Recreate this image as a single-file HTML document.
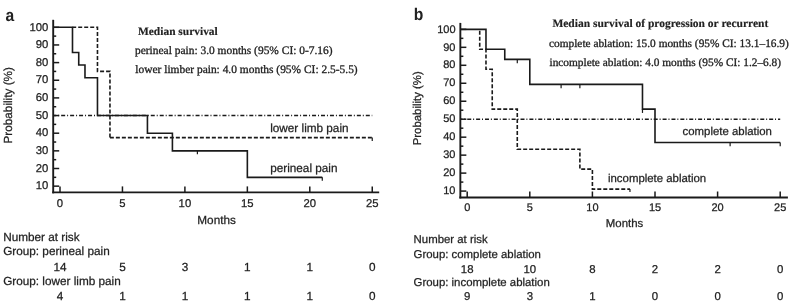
<!DOCTYPE html>
<html><head><meta charset="utf-8"><style>
html,body{margin:0;padding:0;background:#fff;}
body{width:793px;height:303px;overflow:hidden;}
svg{display:block;filter:grayscale(1) blur(0.3px);}
text{text-rendering:geometricPrecision;}
</style></head><body>
<svg width="793" height="303" viewBox="0 0 793 303">
<rect width="793" height="303" fill="#fff"/>
<line x1="53.2" y1="19.8" x2="53.2" y2="193.35" stroke="#1a1a1a" stroke-width="1.9"/>
<line x1="52.25" y1="192.4" x2="379.2" y2="192.4" stroke="#1a1a1a" stroke-width="1.9"/>
<line x1="53.2" y1="186.15" x2="59.2" y2="186.15" stroke="#1a1a1a" stroke-width="1.5"/>
<text x="48.3" y="189.35" font-family='"Liberation Sans", sans-serif' font-size="11.3" font-weight="normal" text-anchor="end" fill="#222" stroke="#222" stroke-width="0.25">10</text>
<line x1="53.2" y1="177.33" x2="56.2" y2="177.33" stroke="#1a1a1a" stroke-width="1.5"/>
<line x1="53.2" y1="168.5" x2="59.2" y2="168.5" stroke="#1a1a1a" stroke-width="1.5"/>
<text x="48.3" y="171.7" font-family='"Liberation Sans", sans-serif' font-size="11.3" font-weight="normal" text-anchor="end" fill="#222" stroke="#222" stroke-width="0.25">20</text>
<line x1="53.2" y1="159.68" x2="56.2" y2="159.68" stroke="#1a1a1a" stroke-width="1.5"/>
<line x1="53.2" y1="150.85" x2="59.2" y2="150.85" stroke="#1a1a1a" stroke-width="1.5"/>
<text x="48.3" y="154.05" font-family='"Liberation Sans", sans-serif' font-size="11.3" font-weight="normal" text-anchor="end" fill="#222" stroke="#222" stroke-width="0.25">30</text>
<line x1="53.2" y1="142.03" x2="56.2" y2="142.03" stroke="#1a1a1a" stroke-width="1.5"/>
<line x1="53.2" y1="133.2" x2="59.2" y2="133.2" stroke="#1a1a1a" stroke-width="1.5"/>
<text x="48.3" y="136.4" font-family='"Liberation Sans", sans-serif' font-size="11.3" font-weight="normal" text-anchor="end" fill="#222" stroke="#222" stroke-width="0.25">40</text>
<line x1="53.2" y1="124.37" x2="56.2" y2="124.37" stroke="#1a1a1a" stroke-width="1.5"/>
<line x1="53.2" y1="115.55" x2="59.2" y2="115.55" stroke="#1a1a1a" stroke-width="1.5"/>
<text x="48.3" y="118.75" font-family='"Liberation Sans", sans-serif' font-size="11.3" font-weight="normal" text-anchor="end" fill="#222" stroke="#222" stroke-width="0.25">50</text>
<line x1="53.2" y1="106.72" x2="56.2" y2="106.72" stroke="#1a1a1a" stroke-width="1.5"/>
<line x1="53.2" y1="97.9" x2="59.2" y2="97.9" stroke="#1a1a1a" stroke-width="1.5"/>
<text x="48.3" y="101.1" font-family='"Liberation Sans", sans-serif' font-size="11.3" font-weight="normal" text-anchor="end" fill="#222" stroke="#222" stroke-width="0.25">60</text>
<line x1="53.2" y1="89.08" x2="56.2" y2="89.08" stroke="#1a1a1a" stroke-width="1.5"/>
<line x1="53.2" y1="80.25" x2="59.2" y2="80.25" stroke="#1a1a1a" stroke-width="1.5"/>
<text x="48.3" y="83.45" font-family='"Liberation Sans", sans-serif' font-size="11.3" font-weight="normal" text-anchor="end" fill="#222" stroke="#222" stroke-width="0.25">70</text>
<line x1="53.2" y1="71.42" x2="56.2" y2="71.42" stroke="#1a1a1a" stroke-width="1.5"/>
<line x1="53.2" y1="62.6" x2="59.2" y2="62.6" stroke="#1a1a1a" stroke-width="1.5"/>
<text x="48.3" y="65.8" font-family='"Liberation Sans", sans-serif' font-size="11.3" font-weight="normal" text-anchor="end" fill="#222" stroke="#222" stroke-width="0.25">80</text>
<line x1="53.2" y1="53.77" x2="56.2" y2="53.77" stroke="#1a1a1a" stroke-width="1.5"/>
<line x1="53.2" y1="44.95" x2="59.2" y2="44.95" stroke="#1a1a1a" stroke-width="1.5"/>
<text x="48.3" y="48.15" font-family='"Liberation Sans", sans-serif' font-size="11.3" font-weight="normal" text-anchor="end" fill="#222" stroke="#222" stroke-width="0.25">90</text>
<line x1="53.2" y1="36.12" x2="56.2" y2="36.12" stroke="#1a1a1a" stroke-width="1.5"/>
<line x1="53.2" y1="27.3" x2="59.2" y2="27.3" stroke="#1a1a1a" stroke-width="1.5"/>
<text x="48.3" y="30.5" font-family='"Liberation Sans", sans-serif' font-size="11.3" font-weight="normal" text-anchor="end" fill="#222" stroke="#222" stroke-width="0.25">100</text>
<line x1="60" y1="192.4" x2="60" y2="186.4" stroke="#1a1a1a" stroke-width="1.5"/>
<text x="60" y="206.7" font-family='"Liberation Sans", sans-serif' font-size="11.3" font-weight="normal" text-anchor="middle" fill="#222" stroke="#222" stroke-width="0.25">0</text>
<line x1="122.45" y1="192.4" x2="122.45" y2="186.4" stroke="#1a1a1a" stroke-width="1.5"/>
<text x="122.45" y="206.7" font-family='"Liberation Sans", sans-serif' font-size="11.3" font-weight="normal" text-anchor="middle" fill="#222" stroke="#222" stroke-width="0.25">5</text>
<line x1="184.9" y1="192.4" x2="184.9" y2="186.4" stroke="#1a1a1a" stroke-width="1.5"/>
<text x="184.9" y="206.7" font-family='"Liberation Sans", sans-serif' font-size="11.3" font-weight="normal" text-anchor="middle" fill="#222" stroke="#222" stroke-width="0.25">10</text>
<line x1="247.35" y1="192.4" x2="247.35" y2="186.4" stroke="#1a1a1a" stroke-width="1.5"/>
<text x="247.35" y="206.7" font-family='"Liberation Sans", sans-serif' font-size="11.3" font-weight="normal" text-anchor="middle" fill="#222" stroke="#222" stroke-width="0.25">15</text>
<line x1="309.8" y1="192.4" x2="309.8" y2="186.4" stroke="#1a1a1a" stroke-width="1.5"/>
<text x="309.8" y="206.7" font-family='"Liberation Sans", sans-serif' font-size="11.3" font-weight="normal" text-anchor="middle" fill="#222" stroke="#222" stroke-width="0.25">20</text>
<line x1="372.25" y1="192.4" x2="372.25" y2="186.4" stroke="#1a1a1a" stroke-width="1.5"/>
<text x="372.25" y="206.7" font-family='"Liberation Sans", sans-serif' font-size="11.3" font-weight="normal" text-anchor="middle" fill="#222" stroke="#222" stroke-width="0.25">25</text>
<text x="216.6" y="224.1" font-family='"Liberation Sans", sans-serif' font-size="11.75" font-weight="normal" text-anchor="middle" fill="#222" stroke="#222" stroke-width="0.25">Months</text>
<text x="11.6" y="105.3" font-family='"Liberation Sans", sans-serif' font-size="11.75" font-weight="normal" text-anchor="middle" fill="#222" stroke="#222" stroke-width="0.25" transform="rotate(-90 11.6 105.3)">Probability (%)</text>
<text transform="translate(5.6 20.6) scale(0.92 1)" font-family='"Liberation Sans", sans-serif' font-size="17" font-weight="bold" fill="#222">a</text>
<text x="138" y="34.9" font-family='"Liberation Serif", serif' font-size="11.45" font-weight="bold" text-anchor="start" fill="#222" stroke="#222" stroke-width="0.15">Median survival</text>
<text x="135" y="54.2" font-family='"Liberation Serif", serif' font-size="11.45" font-weight="normal" text-anchor="start" fill="#222" stroke="#222" stroke-width="0.3">perineal pain: 3.0 months (95% CI: 0-7.16)</text>
<text x="135.3" y="73" font-family='"Liberation Serif", serif' font-size="11.45" font-weight="normal" text-anchor="start" fill="#222" stroke="#222" stroke-width="0.3">lower limber pain: 4.0 months (95% CI: 2.5-5.5)</text>
<line x1="53.3" y1="115.55" x2="372.25" y2="115.55" stroke="#1a1a1a" stroke-width="1.5" stroke-dasharray="4 1.96 1 2" stroke-dashoffset="1.1"/>
<path d="M54 27.3 L72.49 27.3 L72.49 52.54 L78.73 52.54 L78.73 65.07 L84.98 65.07 L84.98 77.78 L97.47 77.78 L97.47 115.55 L147.43 115.55 L147.43 133.2 L172.41 133.2 L172.41 150.85 L247.35 150.85 L247.35 177.33 L322.29 177.33" fill="none" stroke="#1a1a1a" stroke-width="1.6" stroke-linejoin="miter" stroke-linecap="butt"/>
<path d="M72.49 27.3 L97.47 27.3 L97.47 71.42 L109.96 71.42 L109.96 137.61" fill="none" stroke="#1a1a1a" stroke-width="1.6" stroke-linejoin="miter" stroke-linecap="butt" stroke-dasharray="4 2" stroke-dashoffset="0.29"/>
<path d="M109.96 137.61 L372.25 137.61" fill="none" stroke="#1a1a1a" stroke-width="1.6" stroke-linejoin="miter" stroke-linecap="butt" stroke-dasharray="4 2" stroke-dashoffset="0.1"/>
<line x1="197.39" y1="150.85" x2="197.39" y2="154.35" stroke="#1a1a1a" stroke-width="1.2"/>
<line x1="322.29" y1="177.33" x2="322.29" y2="180.83" stroke="#1a1a1a" stroke-width="1.2"/>
<line x1="372.25" y1="137.61" x2="372.25" y2="141.11" stroke="#1a1a1a" stroke-width="1.2"/>
<text x="270.2" y="132" font-family='"Liberation Sans", sans-serif' font-size="11.75" font-weight="normal" text-anchor="start" fill="#222" stroke="#222" stroke-width="0.25">lower limb pain</text>
<text x="270.2" y="171.5" font-family='"Liberation Sans", sans-serif' font-size="11.75" font-weight="normal" text-anchor="start" fill="#222" stroke="#222" stroke-width="0.25">perineal pain</text>
<text x="3.2" y="241.2" font-family='"Liberation Sans", sans-serif' font-size="11.75" font-weight="normal" text-anchor="start" fill="#222" stroke="#222" stroke-width="0.25">Number at risk</text>
<text x="3.2" y="255.4" font-family='"Liberation Sans", sans-serif' font-size="11.75" font-weight="normal" text-anchor="start" fill="#222" stroke="#222" stroke-width="0.25">Group: perineal pain</text>
<text x="3.2" y="284.7" font-family='"Liberation Sans", sans-serif' font-size="11.75" font-weight="normal" text-anchor="start" fill="#222" stroke="#222" stroke-width="0.25">Group: lower limb pain</text>
<text x="60" y="270.7" font-family='"Liberation Sans", sans-serif' font-size="11.75" font-weight="normal" text-anchor="middle" fill="#222" stroke="#222" stroke-width="0.25">14</text>
<text x="122.45" y="270.7" font-family='"Liberation Sans", sans-serif' font-size="11.75" font-weight="normal" text-anchor="middle" fill="#222" stroke="#222" stroke-width="0.25">5</text>
<text x="184.9" y="270.7" font-family='"Liberation Sans", sans-serif' font-size="11.75" font-weight="normal" text-anchor="middle" fill="#222" stroke="#222" stroke-width="0.25">3</text>
<text x="247.35" y="270.7" font-family='"Liberation Sans", sans-serif' font-size="11.75" font-weight="normal" text-anchor="middle" fill="#222" stroke="#222" stroke-width="0.25">1</text>
<text x="309.8" y="270.7" font-family='"Liberation Sans", sans-serif' font-size="11.75" font-weight="normal" text-anchor="middle" fill="#222" stroke="#222" stroke-width="0.25">1</text>
<text x="372.25" y="270.7" font-family='"Liberation Sans", sans-serif' font-size="11.75" font-weight="normal" text-anchor="middle" fill="#222" stroke="#222" stroke-width="0.25">0</text>
<text x="60" y="299.7" font-family='"Liberation Sans", sans-serif' font-size="11.75" font-weight="normal" text-anchor="middle" fill="#222" stroke="#222" stroke-width="0.25">4</text>
<text x="122.45" y="299.7" font-family='"Liberation Sans", sans-serif' font-size="11.75" font-weight="normal" text-anchor="middle" fill="#222" stroke="#222" stroke-width="0.25">1</text>
<text x="184.9" y="299.7" font-family='"Liberation Sans", sans-serif' font-size="11.75" font-weight="normal" text-anchor="middle" fill="#222" stroke="#222" stroke-width="0.25">1</text>
<text x="247.35" y="299.7" font-family='"Liberation Sans", sans-serif' font-size="11.75" font-weight="normal" text-anchor="middle" fill="#222" stroke="#222" stroke-width="0.25">1</text>
<text x="309.8" y="299.7" font-family='"Liberation Sans", sans-serif' font-size="11.75" font-weight="normal" text-anchor="middle" fill="#222" stroke="#222" stroke-width="0.25">1</text>
<text x="372.25" y="299.7" font-family='"Liberation Sans", sans-serif' font-size="11.75" font-weight="normal" text-anchor="middle" fill="#222" stroke="#222" stroke-width="0.25">0</text>
<line x1="460.35" y1="22.9" x2="460.35" y2="198.45" stroke="#1a1a1a" stroke-width="1.9"/>
<line x1="459.4" y1="197.5" x2="787.9" y2="197.5" stroke="#1a1a1a" stroke-width="1.9"/>
<line x1="460.35" y1="191.08" x2="466.35" y2="191.08" stroke="#1a1a1a" stroke-width="1.5"/>
<text x="455.5" y="194.28" font-family='"Liberation Sans", sans-serif' font-size="11.0" font-weight="normal" text-anchor="end" fill="#222" stroke="#222" stroke-width="0.25">10</text>
<line x1="460.35" y1="182.09" x2="463.35" y2="182.09" stroke="#1a1a1a" stroke-width="1.5"/>
<line x1="460.35" y1="173.11" x2="466.35" y2="173.11" stroke="#1a1a1a" stroke-width="1.5"/>
<text x="455.5" y="176.31" font-family='"Liberation Sans", sans-serif' font-size="11.0" font-weight="normal" text-anchor="end" fill="#222" stroke="#222" stroke-width="0.25">20</text>
<line x1="460.35" y1="164.12" x2="463.35" y2="164.12" stroke="#1a1a1a" stroke-width="1.5"/>
<line x1="460.35" y1="155.14" x2="466.35" y2="155.14" stroke="#1a1a1a" stroke-width="1.5"/>
<text x="455.5" y="158.34" font-family='"Liberation Sans", sans-serif' font-size="11.0" font-weight="normal" text-anchor="end" fill="#222" stroke="#222" stroke-width="0.25">30</text>
<line x1="460.35" y1="146.16" x2="463.35" y2="146.16" stroke="#1a1a1a" stroke-width="1.5"/>
<line x1="460.35" y1="137.17" x2="466.35" y2="137.17" stroke="#1a1a1a" stroke-width="1.5"/>
<text x="455.5" y="140.37" font-family='"Liberation Sans", sans-serif' font-size="11.0" font-weight="normal" text-anchor="end" fill="#222" stroke="#222" stroke-width="0.25">40</text>
<line x1="460.35" y1="128.19" x2="463.35" y2="128.19" stroke="#1a1a1a" stroke-width="1.5"/>
<line x1="460.35" y1="119.2" x2="466.35" y2="119.2" stroke="#1a1a1a" stroke-width="1.5"/>
<text x="455.5" y="122.4" font-family='"Liberation Sans", sans-serif' font-size="11.0" font-weight="normal" text-anchor="end" fill="#222" stroke="#222" stroke-width="0.25">50</text>
<line x1="460.35" y1="110.22" x2="463.35" y2="110.22" stroke="#1a1a1a" stroke-width="1.5"/>
<line x1="460.35" y1="101.23" x2="466.35" y2="101.23" stroke="#1a1a1a" stroke-width="1.5"/>
<text x="455.5" y="104.43" font-family='"Liberation Sans", sans-serif' font-size="11.0" font-weight="normal" text-anchor="end" fill="#222" stroke="#222" stroke-width="0.25">60</text>
<line x1="460.35" y1="92.25" x2="463.35" y2="92.25" stroke="#1a1a1a" stroke-width="1.5"/>
<line x1="460.35" y1="83.26" x2="466.35" y2="83.26" stroke="#1a1a1a" stroke-width="1.5"/>
<text x="455.5" y="86.46" font-family='"Liberation Sans", sans-serif' font-size="11.0" font-weight="normal" text-anchor="end" fill="#222" stroke="#222" stroke-width="0.25">70</text>
<line x1="460.35" y1="74.28" x2="463.35" y2="74.28" stroke="#1a1a1a" stroke-width="1.5"/>
<line x1="460.35" y1="65.29" x2="466.35" y2="65.29" stroke="#1a1a1a" stroke-width="1.5"/>
<text x="455.5" y="68.49" font-family='"Liberation Sans", sans-serif' font-size="11.0" font-weight="normal" text-anchor="end" fill="#222" stroke="#222" stroke-width="0.25">80</text>
<line x1="460.35" y1="56.3" x2="463.35" y2="56.3" stroke="#1a1a1a" stroke-width="1.5"/>
<line x1="460.35" y1="47.32" x2="466.35" y2="47.32" stroke="#1a1a1a" stroke-width="1.5"/>
<text x="455.5" y="50.52" font-family='"Liberation Sans", sans-serif' font-size="11.0" font-weight="normal" text-anchor="end" fill="#222" stroke="#222" stroke-width="0.25">90</text>
<line x1="460.35" y1="38.34" x2="463.35" y2="38.34" stroke="#1a1a1a" stroke-width="1.5"/>
<line x1="460.35" y1="29.35" x2="466.35" y2="29.35" stroke="#1a1a1a" stroke-width="1.5"/>
<text x="455.5" y="32.55" font-family='"Liberation Sans", sans-serif' font-size="11.0" font-weight="normal" text-anchor="end" fill="#222" stroke="#222" stroke-width="0.25">100</text>
<line x1="467.2" y1="197.5" x2="467.2" y2="191.5" stroke="#1a1a1a" stroke-width="1.5"/>
<text x="467.2" y="210.7" font-family='"Liberation Sans", sans-serif' font-size="11.0" font-weight="normal" text-anchor="middle" fill="#222" stroke="#222" stroke-width="0.25">0</text>
<line x1="529.8" y1="197.5" x2="529.8" y2="191.5" stroke="#1a1a1a" stroke-width="1.5"/>
<text x="529.8" y="210.7" font-family='"Liberation Sans", sans-serif' font-size="11.0" font-weight="normal" text-anchor="middle" fill="#222" stroke="#222" stroke-width="0.25">5</text>
<line x1="592.4" y1="197.5" x2="592.4" y2="191.5" stroke="#1a1a1a" stroke-width="1.5"/>
<text x="592.4" y="210.7" font-family='"Liberation Sans", sans-serif' font-size="11.0" font-weight="normal" text-anchor="middle" fill="#222" stroke="#222" stroke-width="0.25">10</text>
<line x1="655" y1="197.5" x2="655" y2="191.5" stroke="#1a1a1a" stroke-width="1.5"/>
<text x="655" y="210.7" font-family='"Liberation Sans", sans-serif' font-size="11.0" font-weight="normal" text-anchor="middle" fill="#222" stroke="#222" stroke-width="0.25">15</text>
<line x1="717.6" y1="197.5" x2="717.6" y2="191.5" stroke="#1a1a1a" stroke-width="1.5"/>
<text x="717.6" y="210.7" font-family='"Liberation Sans", sans-serif' font-size="11.0" font-weight="normal" text-anchor="middle" fill="#222" stroke="#222" stroke-width="0.25">20</text>
<line x1="780.2" y1="197.5" x2="780.2" y2="191.5" stroke="#1a1a1a" stroke-width="1.5"/>
<text x="780.2" y="210.7" font-family='"Liberation Sans", sans-serif' font-size="11.0" font-weight="normal" text-anchor="middle" fill="#222" stroke="#222" stroke-width="0.25">25</text>
<text x="624.5" y="226.8" font-family='"Liberation Sans", sans-serif' font-size="11.4" font-weight="normal" text-anchor="middle" fill="#222" stroke="#222" stroke-width="0.25">Months</text>
<text x="421" y="108.3" font-family='"Liberation Sans", sans-serif' font-size="11.4" font-weight="normal" text-anchor="middle" fill="#222" stroke="#222" stroke-width="0.25" transform="rotate(-90 421 108.3)">Probability (%)</text>
<text transform="translate(413.8 20.4) scale(0.92 1)" font-family='"Liberation Sans", sans-serif' font-size="17" font-weight="bold" fill="#222">b</text>
<text x="552.4" y="27.2" font-family='"Liberation Serif", serif' font-size="11.5" font-weight="bold" text-anchor="start" fill="#222" stroke="#222" stroke-width="0.15">Median survival of progression or recurrent</text>
<text x="549" y="46.9" font-family='"Liberation Serif", serif' font-size="11.35" font-weight="normal" text-anchor="start" fill="#222" stroke="#222" stroke-width="0.3">complete ablation: 15.0 months (95% CI: 13.1–16.9)</text>
<text x="549.5" y="66.2" font-family='"Liberation Serif", serif' font-size="11.35" font-weight="normal" text-anchor="start" fill="#222" stroke="#222" stroke-width="0.3">incomplete ablation: 4.0 months (95% CI: 1.2–6.8)</text>
<line x1="460.35" y1="119.2" x2="780.2" y2="119.2" stroke="#1a1a1a" stroke-width="1.5" stroke-dasharray="4 1.88 1 2" stroke-dashoffset="2.0"/>
<path d="M461 29.35 L485.98 29.35 L485.98 49.3 L504.76 49.3 L504.76 59.36 L529.8 59.36 L529.8 84.34 L642.48 84.34 L642.48 109.14 L655 109.14 L655 142.56 L780.2 142.56" fill="none" stroke="#1a1a1a" stroke-width="1.6" stroke-linejoin="miter" stroke-linecap="butt"/>
<path d="M479.72 29.35 L479.72 49.3 L485.98 49.3 L485.98 69.24 L492.24 69.24 L492.24 109.14 L517.28 109.14 L517.28 149.21 L579.88 149.21 L579.88 169.16 L592.4 169.16 L592.4 189.1 L629.96 189.1" fill="none" stroke="#1a1a1a" stroke-width="1.6" stroke-linejoin="miter" stroke-linecap="butt" stroke-dasharray="4 2" stroke-dashoffset="4.7"/>
<line x1="517.28" y1="59.36" x2="517.28" y2="63.16" stroke="#1a1a1a" stroke-width="1.2"/>
<line x1="561.1" y1="84.34" x2="561.1" y2="88.14" stroke="#1a1a1a" stroke-width="1.2"/>
<line x1="579.88" y1="84.34" x2="579.88" y2="88.14" stroke="#1a1a1a" stroke-width="1.2"/>
<line x1="642.48" y1="109.14" x2="642.48" y2="112.94" stroke="#1a1a1a" stroke-width="1.2"/>
<line x1="730.12" y1="142.56" x2="730.12" y2="146.36" stroke="#1a1a1a" stroke-width="1.2"/>
<line x1="780.2" y1="142.56" x2="780.2" y2="146.36" stroke="#1a1a1a" stroke-width="1.2"/>
<line x1="629.96" y1="189.1" x2="629.96" y2="192.1" stroke="#1a1a1a" stroke-width="1.2"/>
<text x="682.6" y="135.1" font-family='"Liberation Sans", sans-serif' font-size="11.4" font-weight="normal" text-anchor="start" fill="#222" stroke="#222" stroke-width="0.25">complete ablation</text>
<text x="608" y="182.1" font-family='"Liberation Sans", sans-serif' font-size="11.4" font-weight="normal" text-anchor="start" fill="#222" stroke="#222" stroke-width="0.25">incomplete ablation</text>
<text x="413.6" y="243.4" font-family='"Liberation Sans", sans-serif' font-size="11.4" font-weight="normal" text-anchor="start" fill="#222" stroke="#222" stroke-width="0.25">Number at risk</text>
<text x="413.6" y="257.7" font-family='"Liberation Sans", sans-serif' font-size="11.4" font-weight="normal" text-anchor="start" fill="#222" stroke="#222" stroke-width="0.25">Group: complete ablation</text>
<text x="413.6" y="286.3" font-family='"Liberation Sans", sans-serif' font-size="11.4" font-weight="normal" text-anchor="start" fill="#222" stroke="#222" stroke-width="0.25">Group: incomplete ablation</text>
<text x="467.2" y="272.5" font-family='"Liberation Sans", sans-serif' font-size="11.4" font-weight="normal" text-anchor="middle" fill="#222" stroke="#222" stroke-width="0.25">18</text>
<text x="529.8" y="272.5" font-family='"Liberation Sans", sans-serif' font-size="11.4" font-weight="normal" text-anchor="middle" fill="#222" stroke="#222" stroke-width="0.25">10</text>
<text x="592.4" y="272.5" font-family='"Liberation Sans", sans-serif' font-size="11.4" font-weight="normal" text-anchor="middle" fill="#222" stroke="#222" stroke-width="0.25">8</text>
<text x="655" y="272.5" font-family='"Liberation Sans", sans-serif' font-size="11.4" font-weight="normal" text-anchor="middle" fill="#222" stroke="#222" stroke-width="0.25">2</text>
<text x="717.6" y="272.5" font-family='"Liberation Sans", sans-serif' font-size="11.4" font-weight="normal" text-anchor="middle" fill="#222" stroke="#222" stroke-width="0.25">2</text>
<text x="780.2" y="272.5" font-family='"Liberation Sans", sans-serif' font-size="11.4" font-weight="normal" text-anchor="middle" fill="#222" stroke="#222" stroke-width="0.25">0</text>
<text x="467.2" y="300" font-family='"Liberation Sans", sans-serif' font-size="11.4" font-weight="normal" text-anchor="middle" fill="#222" stroke="#222" stroke-width="0.25">9</text>
<text x="529.8" y="300" font-family='"Liberation Sans", sans-serif' font-size="11.4" font-weight="normal" text-anchor="middle" fill="#222" stroke="#222" stroke-width="0.25">3</text>
<text x="592.4" y="300" font-family='"Liberation Sans", sans-serif' font-size="11.4" font-weight="normal" text-anchor="middle" fill="#222" stroke="#222" stroke-width="0.25">1</text>
<text x="655" y="300" font-family='"Liberation Sans", sans-serif' font-size="11.4" font-weight="normal" text-anchor="middle" fill="#222" stroke="#222" stroke-width="0.25">0</text>
<text x="717.6" y="300" font-family='"Liberation Sans", sans-serif' font-size="11.4" font-weight="normal" text-anchor="middle" fill="#222" stroke="#222" stroke-width="0.25">0</text>
<text x="780.2" y="300" font-family='"Liberation Sans", sans-serif' font-size="11.4" font-weight="normal" text-anchor="middle" fill="#222" stroke="#222" stroke-width="0.25">0</text>
</svg>
</body></html>
